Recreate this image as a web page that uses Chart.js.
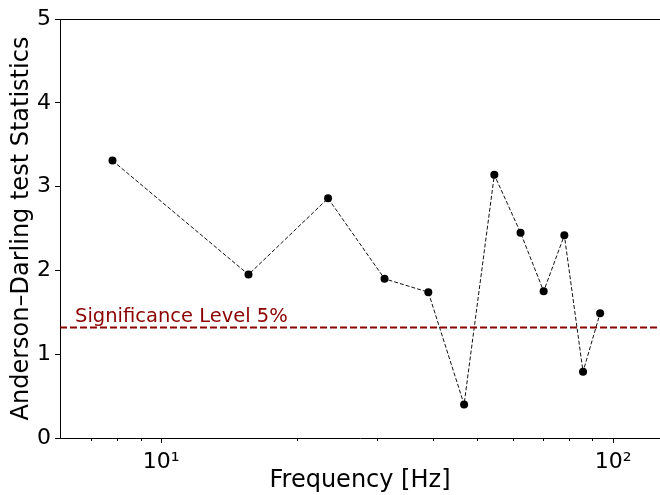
<!DOCTYPE html>
<html>
<head>
<meta charset="utf-8">
<script src="https://cdn.jsdelivr.net/npm/chart.js@4"></script>
<style>
    html, body { margin: 0; padding: 0; background: #ffffff; overflow: hidden; width: 660px; height: 495px; }
</style>
</head>
<body>
<!-- 4px wider than the window: Chart.js keeps room for the point radius on the right -->
<canvas id="adChart" width="664" height="495"></canvas>
<script>
// frequencies [Hz] and Anderson-Darling statistic
var frequencies = [7.8, 15.6, 23.4, 31.2, 39.0, 46.8, 54.6, 62.4, 70.2, 78.0, 85.8, 93.6];
var adStats = [3.31, 1.95, 2.86, 1.90, 1.74, 0.40, 3.14, 2.45, 1.75, 2.42, 0.79, 1.49];
var sigLevel = 1.32;
var sigLabel = 'Significance Level 5%';
var yTicks = [0, 1, 2, 3, 4, 5];
var xLabels = { 10: '10\u00B9', 100: '10\u00B2' };

var FONT = 'DejaVu Sans';

var points = frequencies.map(function(f, i) {
    return { x: f, y: adStats[i] };
});

// top spine, x tick marks (major/minor) and the significance line
var framePlugin = {
    id: 'frame',
    afterDraw: function(chart) {
        var ctx = chart.ctx;
        var area = chart.chartArea;
        var xs = chart.scales.x;
        var ys = chart.scales.y;

        ctx.save();
        ctx.strokeStyle = '#000000';
        ctx.lineWidth = 1;
        ctx.beginPath();
        ctx.moveTo(area.left, area.top + 0.5);
        ctx.lineTo(area.right, area.top + 0.5);
        ctx.stroke();

        xs.ticks.forEach(function(t) {
            var px = Math.round(xs.getPixelForValue(t.value)) + 0.5;
            if (px < area.left || px > area.right) return;
            var len = xLabels[t.value] ? 5 : 3;
            ctx.beginPath();
            ctx.moveTo(px, area.bottom);
            ctx.lineTo(px, area.bottom + len);
            ctx.stroke();
        });

        var py = ys.getPixelForValue(sigLevel);
        ctx.strokeStyle = '#8b0000';
        ctx.lineWidth = 2;
        ctx.setLineDash([7, 3]);
        ctx.beginPath();
        ctx.moveTo(area.left, py);
        ctx.lineTo(area.right, py);
        ctx.stroke();

        ctx.setLineDash([]);
        ctx.fillStyle = '#8b0000';
        ctx.font = '19.5px "' + FONT + '"';
        ctx.textBaseline = 'alphabetic';
        ctx.textAlign = 'left';
        ctx.fillText(sigLabel, area.left + 15, py - 5);
        ctx.restore();
    }
};

new Chart(document.getElementById('adChart').getContext('2d'), {
    type: 'scatter',
    data: {
        datasets: [{
            data: points,
            showLine: true,
            borderColor: '#111111',
            borderWidth: 1,
            borderDash: [4, 2],
            pointRadius: 4,
            pointBackgroundColor: '#000000',
            pointBorderColor: '#000000',
            pointBorderWidth: 0
        }]
    },
    options: {
        responsive: false,
        animation: false,
        layout: { padding: { top: 19, right: 0, left: 0, bottom: 0 } },
        plugins: {
            legend: { display: false },
            tooltip: { enabled: false }
        },
        scales: {
            x: {
                type: 'logarithmic',
                min: 5.97,
                max: 127,
                afterBuildTicks: function(scale) {
                    scale.ticks = scale.ticks.filter(function(t) {
                        var m = t.value / Math.pow(10, Math.floor(Math.log10(t.value) + 1e-9));
                        return Math.abs(m - Math.round(m)) < 1e-6;
                    });
                },
                afterFit: function(scale) {
                    scale.height = 57;
                    scale.paddingLeft = 0;
                    scale.paddingRight = 0;
                },
                border: { display: true, color: '#000000', width: 1 },
                grid: { display: false },
                ticks: {
                    autoSkip: false,
                    maxRotation: 0,
                    padding: 3,
                    color: '#000000',
                    font: { family: FONT, size: 22 },
                    callback: function(value) {
                        return xLabels[value] || '';
                    }
                },
                title: {
                    display: true,
                    text: 'Frequency [Hz]',
                    color: '#000000',
                    font: { family: FONT, size: 24 },
                    padding: { top: 0, bottom: 0 }
                }
            },
            y: {
                min: 0,
                max: 5,
                afterBuildTicks: function(scale) {
                    scale.ticks = yTicks.map(function(v) { return { value: v }; });
                },
                afterFit: function(scale) {
                    scale.width = 60;
                    scale.paddingTop = 0;
                    scale.paddingBottom = 0;
                },
                border: { display: true, color: '#000000', width: 1 },
                grid: { drawOnChartArea: false, tickLength: 5, color: '#000000' },
                ticks: {
                    padding: 4,
                    color: '#000000',
                    font: { family: FONT, size: 22 }
                },
                title: {
                    display: true,
                    text: 'Anderson\u2013Darling test Statistics',
                    color: '#000000',
                    font: { family: FONT, size: 24 },
                    padding: { top: 7, bottom: 0 }
                }
            }
        }
    },
    plugins: [framePlugin]
});
</script>
</body>
</html>
